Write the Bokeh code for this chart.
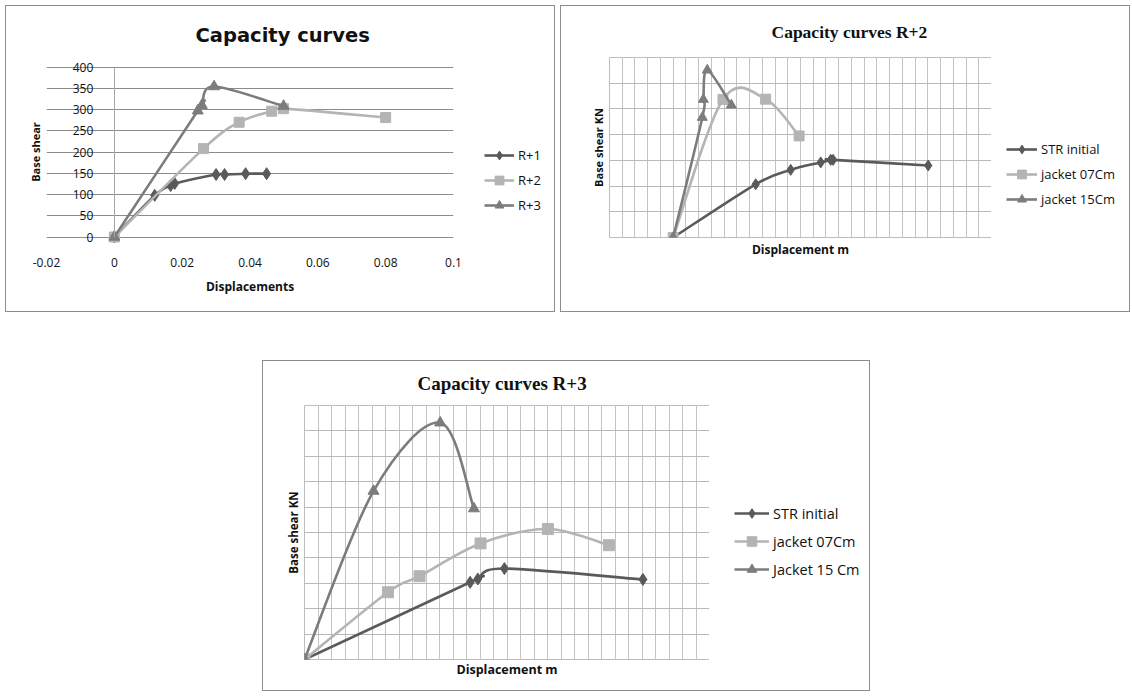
import numpy as np
from bokeh.plotting import figure
from bokeh.models import (Range1d, LinearAxis, FixedTicker, SingleIntervalTicker,
                          Legend, LegendItem, CustomJSTickFormatter, Title)
from bokeh.layouts import column, row
from bokeh.embed import file_html
from bokeh.resources import INLINE

# ---------------- data ----------------
# Chart 1: Capacity curves (displacement m, base shear)
r1_x = [0, 0.0119, 0.0166, 0.0178, 0.0300, 0.0325, 0.0387, 0.0449]
r1_y = [0, 98, 121, 126, 147, 147, 149, 149]
r2_x = [0, 0.0263, 0.0368, 0.0464, 0.0499, 0.0800]
r2_y = [0, 208, 270, 296, 302, 281]
r3_x = [0, 0.0246, 0.0258, 0.0294, 0.0499]
r3_y = [0, 297, 310, 354, 308]
c1_names = ["R+1", "R+2", "R+3"]
c1_xticks = [-0.02, 0, 0.02, 0.04, 0.06, 0.08, 0.1]
c1_yticks = [0, 50, 100, 150, 200, 250, 300, 350, 400]

# Chart 2: Capacity curves R+2 (grid units, no tick labels shown)
s2_str_x = [0, 6.48, 9.23, 11.59, 12.37, 12.56, 20.03]
s2_str_y = [0, 2.07, 2.63, 2.92, 3.02, 3.02, 2.80]
s2_j07_x = [0, 3.91, 7.26, 9.89]
s2_j07_y = [0, 5.37, 5.38, 3.95]
s2_j15_x = [0, 2.29, 2.37, 2.68, 4.57]
s2_j15_y = [0, 4.67, 5.37, 6.51, 5.15]
c2_names = ["STR initial", "jacket 07Cm", "jacket 15Cm"]

# Chart 3: Capacity curves R+3 (grid units, no tick labels shown)
s3_str_x = [0, 12.27, 12.84, 14.81, 25.07]
s3_str_y = [0, 3.04, 3.17, 3.58, 3.15]
s3_j07_x = [0, 6.18, 8.52, 13.04, 18.03, 22.55]
s3_j07_y = [0, 2.65, 3.28, 4.57, 5.14, 4.50]
s3_j15_x = [0, 5.11, 10.05, 12.55]
s3_j15_y = [0, 6.63, 9.32, 5.94]
c3_names = ["STR initial", "jacket 07Cm", "Jacket 15 Cm"]

C_DARK = "#5a5a5a"
C_LIGHT = "#b4b4b4"
C_MID = "#7c7c7c"
COLORS = [C_DARK, C_LIGHT, C_MID]
MARKERS = ["diamond", "square", "triangle"]
SANS = "Open Sans"
INK = "#111111"
BC = "1px solid #8c8c8c"
PLOT_BORDER = {"border-left": BC, "border-top": BC, "border-bottom": BC, "box-sizing": "border-box"}
LEG_BORDER = {"border-right": BC, "border-top": BC, "border-bottom": BC, "box-sizing": "border-box"}


def bezier_parts(xs, ys):
    x = np.asarray(xs, float)
    y = np.asarray(ys, float)
    n = len(x)
    xp = np.concatenate([[x[0]], x, [x[-1]]])
    yp = np.concatenate([[y[0]], y, [y[-1]]])
    cx0 = x[:-1] + (xp[2:n + 1] - xp[0:n - 1]) / 6.0
    cy0 = y[:-1] + (yp[2:n + 1] - yp[0:n - 1]) / 6.0
    cx1 = x[1:] - (xp[3:n + 2] - xp[1:n]) / 6.0
    cy1 = y[1:] - (yp[3:n + 2] - yp[1:n]) / 6.0
    return x[:-1], y[:-1], x[1:], y[1:], cx0, cy0, cx1, cy1


def add_series(p, xs, ys, color, marker, size, width=2.6):
    x0, y0, x1, y1, cx0, cy0, cx1, cy1 = bezier_parts(xs, ys)
    p.bezier(x0=x0, y0=y0, x1=x1, y1=y1, cx0=cx0, cy0=cy0, cx1=cx1, cy1=cy1,
             line_color=color, line_width=width, line_cap="round")
    p.scatter(xs, ys, marker=marker, size=size, fill_color=color, line_color=color)


def legend_fig(width, height, mbt, mbb, names, series, loc, spacing, glyph_w, glyph_h, font_size):
    # legend-only panel: the series are attached here only to give the legend its
    # glyph styles; the y range lies below all data, so nothing is drawn in it
    f = figure(width=width, height=height, x_range=Range1d(0, 1), y_range=Range1d(-2, -1),
               x_axis_type=None, y_axis_type=None, toolbar_location=None,
               output_backend="svg", min_border_left=0, min_border_right=0,
               min_border_top=mbt, min_border_bottom=mbb)
    f.styles = LEG_BORDER
    f.outline_line_color = None
    f.grid.visible = False
    items = []
    for name, (xs, ys), c, m in zip(names, series, COLORS, MARKERS):
        lr = f.line(xs, ys, line_color=c, line_width=2.6)
        sr = f.scatter(xs, ys, marker=m, size=9, fill_color=c, line_color=c)
        items.append(LegendItem(label=name, renderers=[lr, sr]))
    f.add_layout(Legend(items=items, location=loc, padding=0, margin=0, spacing=spacing,
                        glyph_width=glyph_w, glyph_height=glyph_h, label_height=glyph_h,
                        label_standoff=4, border_line_color=None, background_fill_alpha=0,
                        label_text_font=SANS, label_text_font_size=font_size,
                        label_text_color=INK))
    return f


def make_title(text, offset, standoff, font, size, valign="bottom"):
    return Title(text=text, align="left", offset=offset, standoff=standoff,
                 vertical_align=valign,
                 text_font=font, text_font_size=size, text_font_style="bold",
                 text_color=INK)


# ---------------- chart 1 ----------------
p1 = figure(width=467, height=307, x_range=Range1d(-0.02, 0.1), y_range=Range1d(-20, 420),
            output_backend="svg", toolbar_location=None,
            title=make_title("Capacity curves", 149, 23, "DejaVu Sans", "19.5px"),
            min_border_left=40, min_border_right=20, min_border_top=52, min_border_bottom=68)
p1.styles = PLOT_BORDER
p1.outline_line_color = None
p1.xgrid.visible = False
p1.ygrid.ticker = FixedTicker(ticks=c1_yticks)
p1.ygrid.grid_line_color = "#8c8c8c"

xa = p1.xaxis[0]
xa.ticker = FixedTicker(ticks=c1_xticks)
xa.formatter = CustomJSTickFormatter(code="return String(Math.round(tick*100)/100)")
xa.major_tick_line_color = None
xa.minor_tick_line_color = None
xa.axis_line_color = None
xa.major_label_standoff = 6
xa.major_label_text_font = SANS
xa.major_label_text_font_size = "12px"
xa.major_label_text_color = INK
xa.axis_label = "Displacements"
xa.axis_label_standoff = 8
xa.axis_label_text_font = SANS
xa.axis_label_text_font_size = "12px"
xa.axis_label_text_font_style = "bold"
xa.axis_label_text_color = INK

ya = p1.yaxis[0]
ya.fixed_location = 0
ya.bounds = (0, 400)
ya.ticker = FixedTicker(ticks=c1_yticks)
ya.axis_line_color = "#a6a6a6"
ya.major_tick_line_color = None
ya.minor_tick_line_color = None
ya.major_label_standoff = 15
ya.major_label_text_font = SANS
ya.major_label_text_font_size = "12px"
ya.major_label_text_color = INK

ylab1 = LinearAxis(ticker=FixedTicker(ticks=[]), axis_label="Base shear",
                   axis_line_color=None, major_tick_line_color=None, minor_tick_line_color=None,
                   axis_label_standoff=4, axis_label_text_font=SANS,
                   axis_label_text_font_size="11px", axis_label_text_font_style="bold",
                   axis_label_text_color=INK)
p1.add_layout(ylab1, "left")

add_series(p1, r1_x, r1_y, C_DARK, "diamond", 12)
add_series(p1, r2_x, r2_y, C_LIGHT, "square", 10)
add_series(p1, r3_x, r3_y, C_MID, "triangle", 11)
l1 = legend_fig(83, 307, 52, 68, c1_names, [(r1_x, r1_y), (r2_x, r2_y), (r3_x, r3_y)],
                (12, 29), 3, 30, 22, "13px")


# ---------------- chart 2 & 3 helpers ----------------
def grid_chart(w, h, xr, yr, mbl, mbt, mbb, xlabel_standoff, ylabel_standoff,
               xlab_size, ylab_size, title):
    p = figure(width=w, height=h, x_range=Range1d(*xr), y_range=Range1d(*yr),
               output_backend="svg", toolbar_location=None, title=title,
               min_border_left=mbl, min_border_right=1, min_border_top=mbt, min_border_bottom=mbb)
    p.styles = PLOT_BORDER
    p.outline_line_color = "#bdbdbd"
    p.xgrid.ticker = SingleIntervalTicker(interval=1)
    p.ygrid.ticker = SingleIntervalTicker(interval=1)
    p.xgrid.grid_line_color = "#c4c4c4"
    p.ygrid.grid_line_color = "#b8b8b8"
    for ax, lab, so, fs in ((p.xaxis[0], "Displacement m", xlabel_standoff, xlab_size),
                            (p.yaxis[0], "Base shear KN", ylabel_standoff, ylab_size)):
        ax.ticker = FixedTicker(ticks=[])
        ax.axis_line_color = None
        ax.major_tick_line_color = None
        ax.minor_tick_line_color = None
        ax.axis_label = lab
        ax.axis_label_standoff = so
        ax.axis_label_text_font = SANS
        ax.axis_label_text_font_size = fs
        ax.axis_label_text_font_style = "bold"
        ax.axis_label_text_color = INK
    return p


# ---------------- chart 2 ----------------
p2 = grid_chart(431, 307, (-5, 25), (0, 7), 48, 51, 76, 3, 4, "12px", "11px",
                make_title("Capacity curves R+2", 162, 28, "Liberation Serif", "17.5px", "top"))
add_series(p2, s2_str_x, s2_str_y, C_DARK, "diamond", 11)
add_series(p2, s2_j07_x, s2_j07_y, C_LIGHT, "square", 10)
add_series(p2, s2_j15_x, s2_j15_y, C_MID, "triangle", 10)
l2 = legend_fig(139, 307, 51, 76, c2_names,
                [(s2_str_x, s2_str_y), (s2_j07_x, s2_j07_y), (s2_j15_x, s2_j15_y)],
                (15, 27), 3, 31, 22, "13px")

# ---------------- chart 3 ----------------
p3 = grid_chart(447, 331, (0, 30), (0, 10), 41, 44, 33, 1, 4, "12.5px", "11.5px",
                make_title("Capacity curves R+3", 113, 19, "Liberation Serif", "19px", "top"))
add_series(p3, s3_str_x, s3_str_y, C_DARK, "diamond", 12)
add_series(p3, s3_j07_x, s3_j07_y, C_LIGHT, "square", 11)
add_series(p3, s3_j15_x, s3_j15_y, C_MID, "triangle", 11)
l3 = legend_fig(161, 331, 44, 33, c3_names,
                [(s3_str_x, s3_str_y), (s3_j07_x, s3_j07_y), (s3_j15_x, s3_j15_y)],
                (25, 78), 4, 35, 24, "14.5px")

chart1 = row(p1, l1)
chart2 = row(p2, l2)
chart3 = row(p3, l3)
chart1.margin = (5, 0, 0, 5)
chart2.margin = (5, 0, 0, 5)
chart3.margin = (48, 0, 0, 262)

layout = column(row(column(chart1), column(chart2)), column(chart3))
open("out.html", "w").write(file_html(layout, INLINE))
